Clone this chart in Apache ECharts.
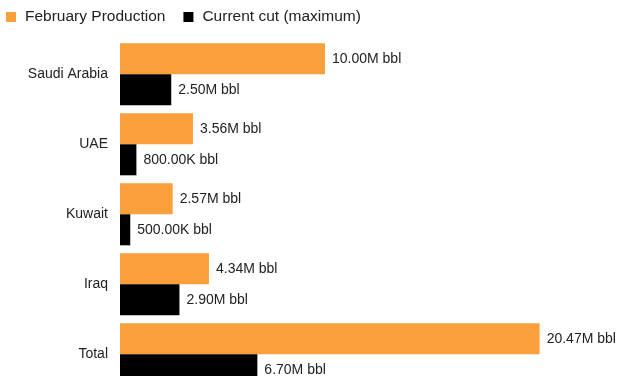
<!DOCTYPE html>
<html><head><meta charset="utf-8">
<script src="https://cdn.jsdelivr.net/npm/echarts@6/dist/echarts.min.js"></script>
<style>html,body{margin:0;padding:0;background:#fff;overflow:hidden}#c{width:627px;height:420px}</style>
</head><body><div id="c"></div>
<script>
const categories = ["Saudi Arabia", "UAE", "Kuwait", "Iraq", "Total"];
const februaryProduction = [10.00, 3.56, 2.57, 4.34, 20.47];
const currentCut = [2.50, 0.80, 0.50, 2.90, 6.70];
const seriesNames = ["February Production", "Current cut (maximum)"];

function fmt(v) {
  if (v < 1) return (v * 1000).toFixed(2) + "K bbl";
  return v.toFixed(2) + "M bbl";
}
const font = "'Liberation Sans', Arial, sans-serif";
const chart = echarts.init(document.getElementById('c'));
chart.setOption({
  animation: false,
  legend: {
    left: 1, top: 4, itemWidth: 10, itemHeight: 10, icon: 'rect', itemGap: 18,
    textStyle: { fontFamily: font, fontSize: 15.5, color: '#222', padding: [0, 0, 0, 4] },
    data: seriesNames
  },
  grid: { left: 120, top: 39.3, width: 492, height: 350 },
  xAxis: { type: 'value', min: 0, max: 24, show: false },
  yAxis: {
    type: 'category', data: categories, inverse: true,
    axisLine: { show: false }, axisTick: { show: false },
    axisLabel: { fontFamily: font, fontSize: 14, color: '#222', margin: 12, padding: [0, 0, 4, 0] }
  },
  series: [
    { name: seriesNames[0], type: 'bar', data: februaryProduction, barGap: '0%', barCategoryGap: '11.4%',
      itemStyle: { color: '#F99F3B' },
      label: { show: true, position: 'right', distance: 7, fontFamily: font, fontSize: 14, color: '#222',
        formatter: p => fmt(p.value) } },
    { name: seriesNames[1], type: 'bar', data: currentCut, barGap: '0%', barCategoryGap: '11.4%',
      itemStyle: { color: '#000' },
      label: { show: true, position: 'right', distance: 7, fontFamily: font, fontSize: 14, color: '#222',
        formatter: p => fmt(p.value) } }
  ]
});
</script></body></html>
